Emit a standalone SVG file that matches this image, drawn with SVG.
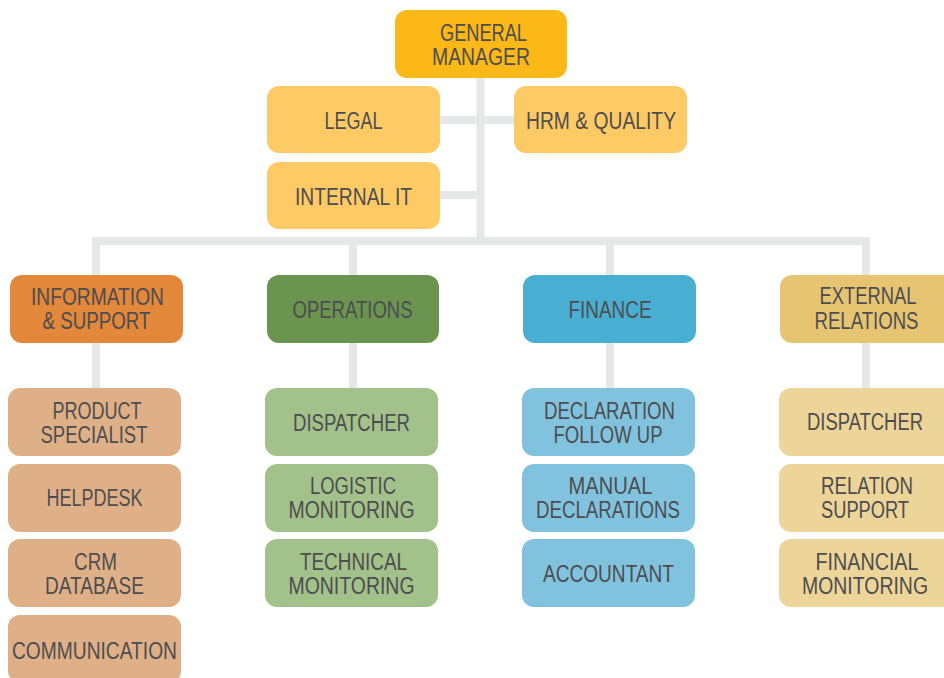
<svg xmlns="http://www.w3.org/2000/svg" width="944" height="678" viewBox="0 0 944 678">
<style>
.c{fill:none;stroke:#E6E7E8;stroke-width:8;stroke-linejoin:miter}
rect{rx:12;ry:12}
text{font-family:"Liberation Sans",Arial,sans-serif;font-size:23px;fill:#4D4D4F;text-anchor:middle}
.gm{fill:#FBB817}.st{fill:#FECA66}
.l1{fill:#E3873A}.l2{fill:#6B9450}.l3{fill:#48AFD2}.l4{fill:#E7C472}
.s1{fill:#DFB087}.s2{fill:#A3C18A}.s3{fill:#81C3DF}.s4{fill:#EDD498}
</style>
<rect width="944" height="678" fill="#FFFFFF" rx="0" ry="0"/>
<g id="connectors">
<path class="c" d="M480.5 78V241"/>
<path class="c" d="M440 120H514"/>
<path class="c" d="M440 195H480.5"/>
<path class="c" d="M96 275V241H866V275"/>
<path class="c" d="M353 241V275"/>
<path class="c" d="M610 241V275"/>
<path class="c" d="M96 343V388"/>
<path class="c" d="M353 343V388"/>
<path class="c" d="M610 343V388"/>
<path class="c" d="M866 343V388"/>
</g>
<g id="general-manager"><rect class="gm" x="395" y="10" width="172" height="68"/><text x="483.5" y="41" textLength="87" lengthAdjust="spacingAndGlyphs">GENERAL</text><text x="481" y="65" textLength="98" lengthAdjust="spacingAndGlyphs">MANAGER</text></g>
<g id="legal"><rect class="st" x="267" y="86" width="173" height="67"/><text x="353.5" y="129" textLength="58" lengthAdjust="spacingAndGlyphs">LEGAL</text></g>
<g id="hrm-quality"><rect class="st" x="514" y="86" width="173" height="67"/><text x="601" y="129" textLength="150" lengthAdjust="spacingAndGlyphs">HRM &amp; QUALITY</text></g>
<g id="internal-it"><rect class="st" x="267" y="162" width="173" height="67"/><text x="353.5" y="205" textLength="117" lengthAdjust="spacingAndGlyphs">INTERNAL IT</text></g>
<g id="information-support"><rect class="l1" x="10" y="275" width="173" height="68"/><text x="97.5" y="305" textLength="133" lengthAdjust="spacingAndGlyphs">INFORMATION</text><text x="96.5" y="329" textLength="108" lengthAdjust="spacingAndGlyphs">&amp; SUPPORT</text></g>
<g id="operations"><rect class="l2" x="267" y="275" width="172" height="68"/><text x="352.5" y="318" textLength="120" lengthAdjust="spacingAndGlyphs">OPERATIONS</text></g>
<g id="finance"><rect class="l3" x="523" y="275" width="173" height="68"/><text x="610" y="318" textLength="83" lengthAdjust="spacingAndGlyphs">FINANCE</text></g>
<g id="external-relations"><path class="l4" d="M792 275H944V343H792A12 12 0 0 1 780 331V287A12 12 0 0 1 792 275Z"/><text x="868" y="304" textLength="97" lengthAdjust="spacingAndGlyphs">EXTERNAL</text><text x="866.5" y="329" textLength="104" lengthAdjust="spacingAndGlyphs">RELATIONS</text></g>
<g id="product-specialist"><rect class="s1" x="8" y="388" width="173" height="68"/><text x="97" y="419" textLength="89" lengthAdjust="spacingAndGlyphs">PRODUCT</text><text x="94" y="443" textLength="107" lengthAdjust="spacingAndGlyphs">SPECIALIST</text></g>
<g id="helpdesk"><rect class="s1" x="8" y="464" width="173" height="68"/><text x="94.5" y="506" textLength="96" lengthAdjust="spacingAndGlyphs">HELPDESK</text></g>
<g id="crm-database"><rect class="s1" x="8" y="539" width="173" height="68"/><text x="95.5" y="570" textLength="43" lengthAdjust="spacingAndGlyphs">CRM</text><text x="94.5" y="594" textLength="99" lengthAdjust="spacingAndGlyphs">DATABASE</text></g>
<g id="communication"><rect class="s1" x="8" y="615" width="173" height="68"/><text x="94.5" y="659" textLength="165" lengthAdjust="spacingAndGlyphs">COMMUNICATION</text></g>
<g id="ops-dispatcher"><rect class="s2" x="265" y="388" width="173" height="68"/><text x="351.5" y="431" textLength="117" lengthAdjust="spacingAndGlyphs">DISPATCHER</text></g>
<g id="logistic-monitoring"><rect class="s2" x="265" y="464" width="173" height="68"/><text x="353" y="494" textLength="86" lengthAdjust="spacingAndGlyphs">LOGISTIC</text><text x="351.5" y="518" textLength="126" lengthAdjust="spacingAndGlyphs">MONITORING</text></g>
<g id="technical-monitoring"><rect class="s2" x="265" y="539" width="173" height="68"/><text x="353.5" y="570" textLength="107" lengthAdjust="spacingAndGlyphs">TECHNICAL</text><text x="351.5" y="594" textLength="126" lengthAdjust="spacingAndGlyphs">MONITORING</text></g>
<g id="declaration-follow-up"><rect class="s3" x="522" y="388" width="173" height="68"/><text x="609.5" y="419" textLength="131" lengthAdjust="spacingAndGlyphs">DECLARATION</text><text x="608" y="443" textLength="109" lengthAdjust="spacingAndGlyphs">FOLLOW UP</text></g>
<g id="manual-declarations"><rect class="s3" x="522" y="464" width="173" height="68"/><text x="610.5" y="494" textLength="84" lengthAdjust="spacingAndGlyphs">MANUAL</text><text x="608" y="518" textLength="144" lengthAdjust="spacingAndGlyphs">DECLARATIONS</text></g>
<g id="accountant"><rect class="s3" x="522" y="539" width="173" height="68"/><text x="608.5" y="582" textLength="131" lengthAdjust="spacingAndGlyphs">ACCOUNTANT</text></g>
<g id="ext-dispatcher"><path class="s4" d="M791 388H944V456H791A12 12 0 0 1 779 444V400A12 12 0 0 1 791 388Z"/><text x="865" y="430" textLength="116" lengthAdjust="spacingAndGlyphs">DISPATCHER</text></g>
<g id="relation-support"><path class="s4" d="M791 464H944V532H791A12 12 0 0 1 779 520V476A12 12 0 0 1 791 464Z"/><text x="867" y="494" textLength="92" lengthAdjust="spacingAndGlyphs">RELATION</text><text x="865" y="518" textLength="88" lengthAdjust="spacingAndGlyphs">SUPPORT</text></g>
<g id="financial-monitoring"><path class="s4" d="M791 539H944V607H791A12 12 0 0 1 779 595V551A12 12 0 0 1 791 539Z"/><text x="867" y="570" textLength="103" lengthAdjust="spacingAndGlyphs">FINANCIAL</text><text x="865" y="594" textLength="126" lengthAdjust="spacingAndGlyphs">MONITORING</text></g>
</svg>
